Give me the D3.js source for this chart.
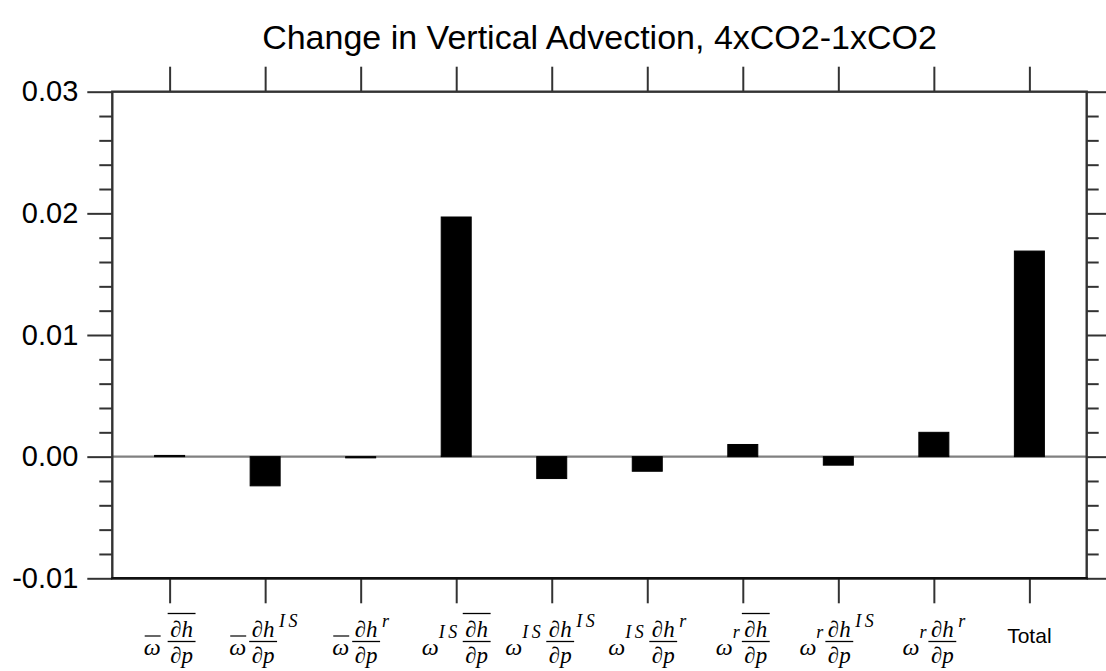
<!DOCTYPE html>
<html>
<head>
<meta charset="utf-8">
<script src="https://cdn.jsdelivr.net/npm/d3@7"></script>
<style>
  html, body { margin: 0; padding: 0; background: #fff; }
  svg { display: block; }
  .mathlabel text { font-family: "Liberation Serif", "DejaVu Serif", serif; font-style: italic; fill: #000; }
</style>
</head>
<body>
<svg id="chart" width="1106" height="671"></svg>
<script>
// Decomposition of the vertical advection change into mean / intraseasonal / residual terms
const termIds = ["wbar_hbar", "wbar_hIS", "wbar_hr", "wIS_hbar", "wIS_hIS", "wIS_hr", "wr_hbar", "wr_hIS", "wr_hr", "total"];
// decoration of omega in each term: "bar" = time mean, "IS" / "r" = superscript
const omegaMarks = ["bar", "bar", "bar", "IS", "IS", "IS", "r", "r", "r", null];
// decoration of dh/dp in each term
const gradMarks = ["bar", "IS", "r", "bar", "IS", "r", "bar", "IS", "r", null];
const plainLabels = [null, null, null, null, null, null, null, null, null, "Total"];
const values = [0.0001, -0.0024, -0.0001, 0.0197, -0.0018, -0.0012, 0.0010, -0.0007, 0.0020, 0.0169];
const yTickValues = [-0.01, 0.00, 0.01, 0.02, 0.03];
const yMinorStep = 0.002;
const titleText = "Change in Vertical Advection, 4xCO2-1xCO2";

const svg = d3.select("#chart");
const plotLeft = 112.3, plotRight = 1086.7, plotTop = 91.7, plotBottom = 578.3;

const positions = termIds.map((d, i) => i + 1);
const x = d3.scaleLinear().domain([0.4, 10.6]).range([plotLeft, plotRight]);
const y = d3.scaleLinear().domain([-0.01, 0.03]).range([plotBottom, plotTop]);
const barHalf = 0.157;

const axisColor = "#333";
const sansFont = '"Liberation Sans", Arial, Helvetica, sans-serif';

// title
svg.append("text")
  .attr("x", (plotLeft + plotRight) / 2)
  .attr("y", 49)
  .attr("text-anchor", "middle")
  .attr("font-family", sansFont)
  .attr("font-size", 34)
  .attr("fill", "#000")
  .text(titleText);

// zero reference line
svg.append("line")
  .attr("x1", plotLeft).attr("x2", plotRight)
  .attr("y1", y(0)).attr("y2", y(0))
  .attr("stroke", "#808080").attr("stroke-width", 2.2);

// bars
svg.append("g").selectAll("rect")
  .data(values)
  .join("rect")
  .attr("x", (d, i) => x(positions[i] - barHalf))
  .attr("width", (d, i) => x(positions[i] + barHalf) - x(positions[i] - barHalf))
  .attr("y", d => Math.min(y(d), y(0)))
  .attr("height", d => Math.abs(y(d) - y(0)))
  .attr("fill", "#000")
  .attr("stroke", "#000")
  .attr("stroke-width", 1);

// minor tick values for both y axes
const minorTicks = d3.range(-0.01, 0.0301, yMinorStep)
  .map(v => Math.round(v * 1000) / 1000)
  .filter(v => !yTickValues.some(t => Math.abs(t - v) < 1e-9));

function styleAxis(g) {
  g.select(".domain").remove();
  g.selectAll(".tick line").attr("stroke", axisColor).attr("stroke-width", 2);
}

// left axis: labelled major ticks + minor ticks
const gLeft = svg.append("g").attr("transform", `translate(${plotLeft},0)`)
  .call(d3.axisLeft(y).tickValues(yTickValues).tickSize(25).tickPadding(9)
    .tickFormat(d => d.toFixed(2)));
styleAxis(gLeft);
gLeft.selectAll(".tick text")
  .attr("font-family", sansFont).attr("font-size", 29).attr("fill", "#000");
svg.append("g").attr("transform", `translate(${plotLeft},0)`)
  .call(d3.axisLeft(y).tickValues(minorTicks).tickSize(13).tickFormat(""))
  .call(styleAxis);

// right axis: ticks only
svg.append("g").attr("transform", `translate(${plotRight},0)`)
  .call(d3.axisRight(y).tickValues(yTickValues).tickSize(25).tickFormat(""))
  .call(styleAxis);
svg.append("g").attr("transform", `translate(${plotRight},0)`)
  .call(d3.axisRight(y).tickValues(minorTicks).tickSize(12).tickFormat(""))
  .call(styleAxis);

// top and bottom axes: outward ticks at each term
svg.append("g").attr("transform", `translate(0,${plotTop})`)
  .call(d3.axisTop(x).tickValues(positions).tickSize(25).tickFormat(""))
  .call(styleAxis);
svg.append("g").attr("transform", `translate(0,${plotBottom})`)
  .call(d3.axisBottom(x).tickValues(positions).tickSize(25).tickFormat(""))
  .call(styleAxis);

// plot frame
svg.append("rect")
  .attr("x", plotLeft).attr("y", plotTop)
  .attr("width", plotRight - plotLeft).attr("height", plotBottom - plotTop)
  .attr("fill", "none").attr("stroke", axisColor).attr("stroke-width", 2.4);
svg.append("line")
  .attr("x1", plotLeft - 1).attr("x2", plotRight + 1)
  .attr("y1", plotBottom).attr("y2", plotBottom)
  .attr("stroke", "#111").attr("stroke-width", 2.6);

// term labels written as small formulas
const bigSize = 23, supSize = 18;
const numBase = 637, barY = 641.5, denBase = 663, omegaBase = 655;

function addText(g, str, px, py, size, spacing) {
  const t = g.append("text").attr("x", px).attr("y", py)
    .attr("font-size", size).text(str);
  if (spacing) t.attr("letter-spacing", spacing);
  return t;
}
function rule(g, x1, x2, yy, w) {
  g.append("line").attr("x1", x1).attr("x2", x2).attr("y1", yy).attr("y2", yy)
    .attr("stroke", "#000").attr("stroke-width", w || 1.3);
}

positions.forEach((p, i) => {
  const cx = x(p);
  if (plainLabels[i]) {
    svg.append("text").attr("x", cx).attr("y", 643)
      .attr("text-anchor", "middle")
      .attr("font-family", sansFont).attr("font-size", 21)
      .attr("fill", "#000").text(plainLabels[i]);
    return;
  }
  const g = svg.append("g").attr("class", "mathlabel");
  let cur = 0;
  // omega with its decoration
  const om = addText(g, "ω", cur, omegaBase, 24);
  const omW = om.node().getComputedTextLength();
  if (omegaMarks[i] === "bar") {
    rule(g, cur + 1, cur + omW, 636, 1.2);
    cur += omW + (gradMarks[i] === "bar" ? 7 : 3);
  } else {
    const s = addText(g, omegaMarks[i], cur + omW, 638, supSize, omegaMarks[i] === "IS" ? 3.5 : 0);
    cur += omW + s.node().getComputedTextLength() + 2;
  }
  // fraction dh/dp
  const num = addText(g, "∂h", cur + 1, numBase, bigSize);
  const numW = num.node().getComputedTextLength();
  const den = addText(g, "∂p", 0, denBase, bigSize);
  const denW = den.node().getComputedTextLength();
  const fracW = Math.max(numW, denW) + 5;
  num.attr("x", cur + (fracW - numW) / 2);
  den.attr("x", cur + (fracW - denW) / 2);
  rule(g, cur, cur + fracW, barY, 1.3);
  if (gradMarks[i] === "bar") {
    rule(g, cur, cur + fracW, 613.5, 1.3);
    cur += fracW;
  } else {
    const s = addText(g, gradMarks[i], cur + fracW + 2, 627, supSize, gradMarks[i] === "IS" ? 3.5 : 0);
    cur += fracW + 2 + s.node().getComputedTextLength();
  }
  g.attr("transform", `translate(${cx - cur / 2},0)`);
});
</script>
</body>
</html>
